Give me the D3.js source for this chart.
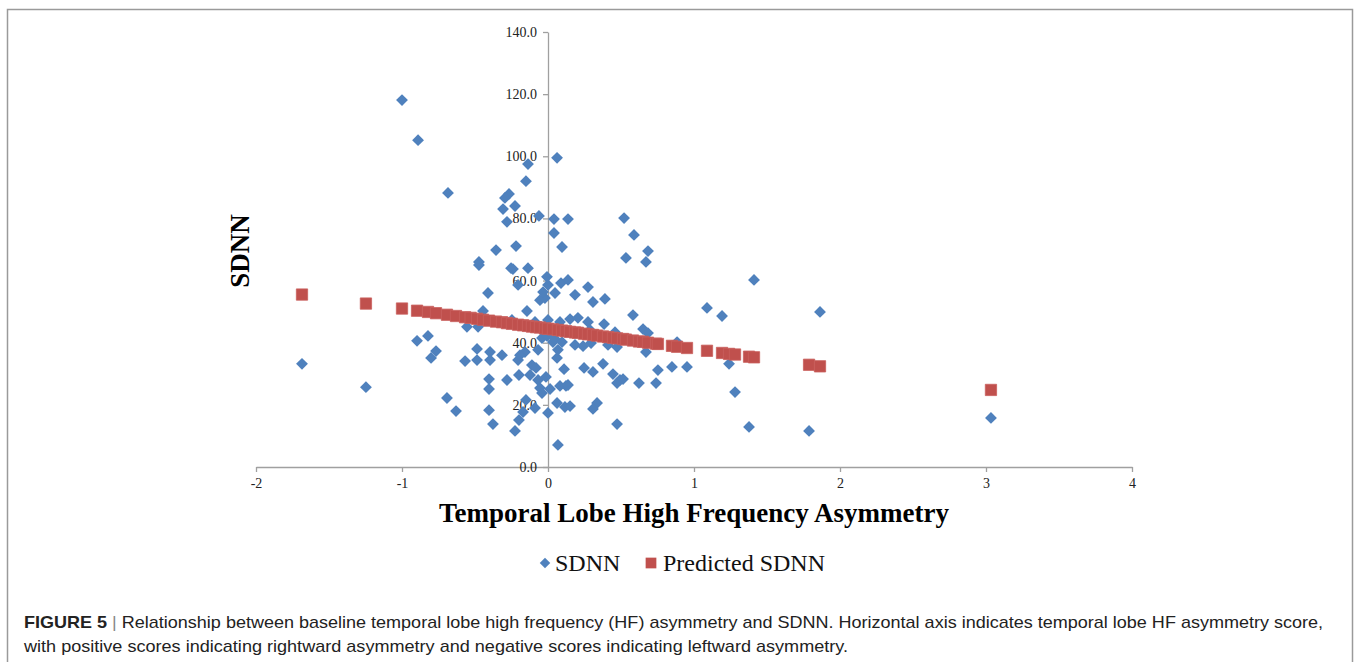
<!DOCTYPE html>
<html>
<head>
<meta charset="utf-8">
<script src="https://cdn.jsdelivr.net/npm/d3@7"></script>
<style>
  body { margin: 0; background: #fff; }
  svg { display: block; }
</style>
</head>
<body>
<div id="chart"></div>
<script>
// ---- data ----
var asymmetry = [
  -1.685, -1.247, -1.0, -0.89, -0.685, -0.897, -0.822, -0.767, -0.801, -0.692, -0.63,
  -0.411, -0.445, -0.555, -0.479, -0.486, -0.397, -0.568, -0.486, -0.397, -0.315,
  -0.404, -0.404, -0.281, -0.404, -0.377, -0.226, -0.199, -0.199, -0.151, -0.089,
  -0.171, -0.205, -0.158, -0.123, -0.110, -0.082, -0.068, -0.055, -0.041, 0.014,
  0.0, 0.068, 0.062, -0.144, -0.055, -0.021, 0.048, -0.007, 0.0, -0.205,
  -0.068, 0.034, -0.041, 0.062, 0.068, -0.007, 0.048, -0.192, -0.014, 0.082,
  0.123, 0.110, 0.116, -0.137, -0.151, -0.267, -0.295, -0.308, -0.226, -0.281,
  -0.062, 0.041, 0.137, 0.041, 0.096, -0.219, -0.356, -0.473, -0.473, -0.253,
  -0.240, -0.137, 0.089, 0.137, 0.185, -0.034, 0.062, 0.274, 0.390, 0.308,
  1.411, 1.089, 1.192, 1.863, 0.582, 0.151, 0.205, 0.274, 0.384, 0.459,
  0.651, 0.685, 0.884, 0.096, 0.185, 0.240, 0.295, 0.411, 0.473, 0.671,
  0.247, 0.308, 0.377, 0.445, 0.493, 0.473, 0.514, 0.623, 0.740, 0.753,
  0.849, 0.952, 1.240, 1.281, 1.377, 1.788, 0.151, 0.336, 0.308, 0.473,
  3.034, 0.521, 0.589, 0.685, 0.534, 0.671, 0.137, 0.0, 0.082, -0.089,
  -0.247, 0.288
];
var sdnn = [
  33.2, 25.7, 118.1, 105.2, 88.2, 40.6, 42.2, 37.3, 35.1, 22.2, 18.0,
  56.0, 50.2, 45.1, 45.1, 38.0, 37.0, 34.1, 34.4, 34.4, 36.0,
  28.3, 25.1, 28.0, 18.3, 13.8, 11.6, 29.6, 15.1, 21.6, 19.0,
  17.7, 34.4, 37.0, 29.6, 32.8, 31.9, 28.0, 25.4, 23.8, 25.1,
  17.4, 7.1, 20.6, 50.2, 53.7, 54.4, 56.0, 61.2, 58.6, 58.6,
  37.7, 40.2, 41.5, 35.1, 37.7, 42.2, 41.2, 36.0, 29.0, 26.1,
  26.1, 31.5, 19.3, 97.5, 92.0, 87.9, 86.6, 83.0, 84.0, 78.9,
  80.8, 79.8, 79.8, 75.3, 70.8, 71.1, 69.8, 66.0, 65.0, 64.0,
  63.7, 64.0, 59.2, 60.2, 55.4, 56.3, 99.5, 57.9, 54.1, 53.1,
  60.2, 51.2, 48.6, 49.9, 48.9, 47.6, 48.0, 46.7, 46.0, 43.4,
  44.4, 43.1, 40.2, 40.2, 39.3, 38.9, 39.9, 39.3, 38.6, 37.0,
  31.9, 30.6, 33.2, 29.9, 28.0, 27.0, 28.3, 27.0, 27.0, 31.2,
  32.2, 32.2, 33.2, 24.1, 12.9, 11.6, 19.6, 20.6, 18.7, 13.8,
  15.8, 80.1, 74.7, 69.5, 67.3, 66.0, 26.4, 47.3, 46.7, 46.7,
  47.3, 44.1
];

// predicted SDNN (regression fit) at the asymmetry scores
var predAsymmetry = [
  -1.685, -1.247, -1.0, -0.897, -0.822, -0.767, -0.692, -0.63, -0.568, -0.53,
  -0.486, -0.445, -0.404, -0.356, -0.315, -0.281, -0.247, -0.205, -0.171, -0.137,
  -0.110, -0.082, -0.055, -0.021, 0.0, 0.034, 0.068, 0.096, 0.123, 0.151,
  0.185, 0.205, 0.247, 0.274, 0.308, 0.336, 0.377, 0.411, 0.445, 0.473,
  0.514, 0.534, 0.582, 0.623, 0.651, 0.685, 0.740, 0.753, 0.849, 0.884,
  0.952, 1.089, 1.192, 1.240, 1.281, 1.377, 1.411, 1.788, 1.863, 3.034
];
var predSDNN = [
  55.5, 52.6, 51.0, 50.3, 49.9, 49.5, 49.0, 48.6, 48.2, 48.0,
  47.7, 47.4, 47.1, 46.8, 46.6, 46.3, 46.1, 45.8, 45.6, 45.4,
  45.2, 45.0, 44.9, 44.6, 44.5, 44.3, 44.1, 43.9, 43.7, 43.5,
  43.3, 43.2, 42.9, 42.7, 42.5, 42.3, 42.0, 41.8, 41.6, 41.4,
  41.2, 41.0, 40.7, 40.4, 40.3, 40.0, 39.7, 39.6, 39.0, 38.7,
  38.3, 37.4, 36.7, 36.4, 36.2, 35.5, 35.3, 32.9, 32.4, 24.8
];

var xTicks = [-2, -1, 0, 1, 2, 3, 4];
var yTicks = [0, 20, 40, 60, 80, 100, 120, 140];
var seriesNames = ["SDNN", "Predicted SDNN"];
var xTitle = "Temporal Lobe High Frequency Asymmetry";
var yTitle = "SDNN";
var captionBold = "FIGURE 5";
var captionLine1 = "Relationship between baseline temporal lobe high frequency (HF) asymmetry and SDNN. Horizontal axis indicates temporal lobe HF asymmetry score,";
var captionLine2 = "with positive scores indicating rightward asymmetry and negative scores indicating leftward asymmetry.";

var blue = "#4F81BD", red = "#C0504D";
var serif = "'Liberation Serif', 'Times New Roman', serif";
var sans = "'Liberation Sans Narrow', 'Liberation Sans', Arial, sans-serif";

var W = 1360, H = 662;
var svg = d3.select("#chart").append("svg").attr("width", W).attr("height", H);

// figure frame
svg.append("rect")
  .attr("x", 7.5).attr("y", 9.5).attr("width", 1345).attr("height", 700)
  .attr("fill", "none").attr("stroke", "#9a9a9a").attr("stroke-width", 1.5);

var x = d3.scaleLinear().domain([-2, 4]).range([256, 1132]);
var y = d3.scaleLinear().domain([0, 140]).range([467, 32]);

// plain hyphen for negatives, like the original
var xAxis = d3.axisBottom(x).tickValues(xTicks).tickSize(5).tickSizeOuter(0).tickPadding(6)
  .tickFormat(function (d) { return String(d); });
var yAxis = d3.axisLeft(y).tickValues(yTicks).tickSize(5).tickSizeOuter(0).tickPadding(6)
  .tickFormat(d3.format(".1f"));

function styleAxis(g) {
  g.select(".domain").attr("stroke", "#a0a0a0").attr("stroke-width", 1.3);
  g.selectAll(".tick line").attr("stroke", "#a0a0a0").attr("stroke-width", 1.3);
  g.selectAll(".tick text").attr("fill", "#222").style("font-family", serif).style("font-size", "14px");
}

svg.append("g").attr("transform", "translate(0," + y(0) + ")").call(xAxis).call(styleAxis);
svg.append("g").attr("transform", "translate(" + x(0) + ",0)").call(yAxis).call(styleAxis);

// observed points, diamonds
var diamond = d3.symbol().type(d3.symbolSquare).size(70);
svg.append("g").selectAll("path")
  .data(d3.zip(asymmetry, sdnn))
  .enter().append("path")
  .attr("d", diamond)
  .attr("transform", function (d) { return "translate(" + x(d[0]) + "," + y(d[1]) + ") rotate(45)"; })
  .attr("fill", blue);

// predicted points, squares
var square = d3.symbol().type(d3.symbolSquare).size(128);
svg.append("g").selectAll("path")
  .data(d3.zip(predAsymmetry, predSDNN))
  .enter().append("path")
  .attr("d", square)
  .attr("transform", function (d) { return "translate(" + x(d[0]) + "," + y(d[1]) + ")"; })
  .attr("fill", red).attr("stroke", "#c9605d").attr("stroke-width", 0.8);

// axis titles
svg.append("text")
  .attr("x", 694).attr("y", 522).attr("text-anchor", "middle")
  .style("font-family", serif).style("font-weight", "bold").style("font-size", "27px")
  .attr("fill", "#000").text(xTitle);

svg.append("text")
  .attr("transform", "translate(249,251) rotate(-90)").attr("text-anchor", "middle")
  .style("font-family", serif).style("font-weight", "bold").style("font-size", "27px")
  .attr("fill", "#000").text(yTitle);

// legend
var legend = svg.append("g").style("font-family", serif).style("font-size", "24px");
legend.append("path").attr("d", d3.symbol().type(d3.symbolSquare).size(55))
  .attr("transform", "translate(545,563) rotate(45)").attr("fill", blue);
legend.append("text").attr("x", 555).attr("y", 571).attr("fill", "#111").text(seriesNames[0]);
legend.append("path").attr("d", d3.symbol().type(d3.symbolSquare).size(115))
  .attr("transform", "translate(651,563)").attr("fill", red);
legend.append("text").attr("x", 663).attr("y", 571).attr("fill", "#111").text(seriesNames[1]);

// caption
var cap = svg.append("g").style("font-family", sans).style("font-size", "17px").attr("fill", "#222");
var t1 = cap.append("text").attr("x", 24).attr("y", 628)
  .attr("textLength", 1299).attr("lengthAdjust", "spacingAndGlyphs");
t1.append("tspan").style("font-weight", "bold").text(captionBold);
t1.append("tspan").attr("fill", "#888").text(" | ");
t1.append("tspan").text(captionLine1);
cap.append("text").attr("x", 24).attr("y", 652)
  .attr("textLength", 824).attr("lengthAdjust", "spacingAndGlyphs").text(captionLine2);
</script>
</body>
</html>
